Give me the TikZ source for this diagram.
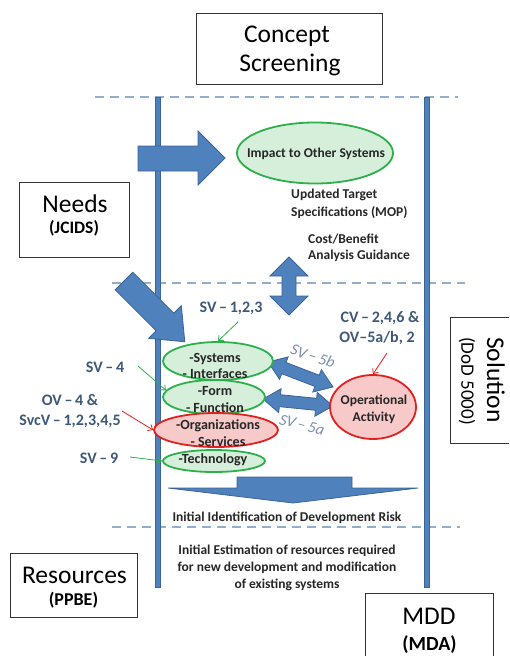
\documentclass[tikz,border=0pt]{standalone}
\usepackage{fontspec}
\setmainfont{Carlito}
\usetikzlibrary{shapes.geometric,arrows.meta}
\definecolor{abfill}{HTML}{4F81BD}
\definecolor{abdraw}{HTML}{3A6496}
\definecolor{dashc}{HTML}{94ADCB}
\definecolor{gborder}{HTML}{2DB04C}
\definecolor{gfill}{HTML}{D5EFDA}
\definecolor{rborder}{HTML}{E0211F}
\definecolor{rfill}{HTML}{F7C9C9}
\definecolor{lblc}{HTML}{3D5879}
\definecolor{ilblc}{HTML}{7D8EAE}
\definecolor{txtc}{HTML}{262626}
\begin{document}
\begin{tikzpicture}[x=1pt,y=-1pt,
  bigbox/.style={draw=black!80, line width=1pt, fill=white, inner sep=0pt},
  bigtxt/.style={font=\fontsize{25.5}{30}\selectfont, text=black, inner sep=0pt},
  subtxt/.style={font=\bfseries\fontsize{18}{22}\selectfont, text=black, inner sep=0pt},
  barstyle/.style={fill=abfill, draw=abdraw, line width=0.6pt},
  bigarrow/.style={fill=abfill, draw=abdraw, line width=0.8pt, line join=miter},
  phase/.style={draw=dashc, line width=1.3pt, dash pattern=on 9pt off 6pt},
  gell/.style={ellipse, draw=gborder, fill=gfill, line width=1.8pt, inner sep=0pt},
  rell/.style={ellipse, draw=rborder, fill=rfill, line width=1.8pt, inner sep=0pt},
  etext/.style={font=\bfseries\fontsize{14}{16}\selectfont, text=txtc, align=center, inner sep=0pt},
  lbl/.style={font=\bfseries\fontsize{16}{20}\selectfont, text=lblc, inner sep=0pt},
  ilbl/.style={font=\itshape\fontsize{16}{20}\selectfont, text=ilblc, inner sep=0pt},
  note/.style={font=\bfseries\fontsize{13.5}{18}\selectfont, text=txtc, inner sep=0pt},
  gline/.style={draw=gborder, line width=0.8pt, -{Straight Barb[length=4pt,width=7pt]}},
  rline/.style={draw=rborder, line width=0.8pt, -{Straight Barb[length=4pt,width=7pt]}},
]
\clip (0,0) rectangle (509,656);
\useasboundingbox (0,0) rectangle (509,656);

% phase separators
\draw[phase] (95,97) -- (458,97);
\draw[phase] (112,283) -- (465,283);
\draw[phase] (112,527) -- (460,527);

% vertical bars
\filldraw[barstyle] (155,97) rectangle (160,587);
\filldraw[barstyle] (424,97) rectangle (429,587);

% boxes
\node[bigbox, minimum width=186pt, minimum height=71pt] (conceptbox) at (289,48.5) {};
\node[bigtxt] (concept1) at (287,36) {Concept};
\node[bigtxt] (concept2) at (290,65) {Screening};

\node[bigbox, minimum width=110pt, minimum height=75pt] (needsbox) at (74,219.5) {};
\node[bigtxt] (needs1) at (75,203.5) {Needs};
\node[subtxt, font=\bfseries\fontsize{17.5}{20}\selectfont] (needs2) at (74,228) {(JCIDS)};

\node[bigbox, minimum width=127pt, minimum height=64pt] (resbox) at (73.5,585) {};
\node[bigtxt] (res1) at (74.5,575) {Resources};
\node[subtxt] (res2) at (73.5,600) {(PPBE)};

\node[bigbox, minimum width=128pt, minimum height=80pt] (mddbox) at (429,633) {};
\node[bigtxt] (mdd1) at (429,616) {MDD};
\node[subtxt, font=\bfseries\fontsize{20}{24}\selectfont] (mdd2) at (429.5,645) {(MDA)};

\node[bigbox, rotate=-90, minimum width=126pt, minimum height=70pt] (solbox) at (485,380) {};
\node[bigtxt, rotate=-90] (sol1) at (496,380) {Solution};
\node[bigtxt, rotate=-90, font=\fontsize{19}{22}\selectfont] (sol2) at (467,381) {(DoD 5000)};

% big arrows
\filldraw[bigarrow] (138,146) -- (198,146) -- (198,131) -- (225,158) -- (198,185) -- (198,171) -- (138,171) -- cycle;
\filldraw[bigarrow] (132.8,272.2) -- (173.8,313.2) -- (181.3,305.7) -- (184.8,341.8) -- (148.7,338.3) -- (156.2,330.8) -- (115.2,289.8) -- cycle;
\filldraw[bigarrow] (289,257) -- (308,276) -- (296,276) -- (296,296) -- (308,296) -- (289,315) -- (270,296) -- (282,296) -- (282,276) -- (270,276) -- cycle;
\filldraw[bigarrow] (237,477) -- (352,477) -- (352,488) -- (418,488) -- (293,503) -- (168,488) -- (237,488) -- cycle;
\begin{scope}[shift={(268,362)}, rotate=-21]
  \filldraw[bigarrow] (0,0) -- (17,-12) -- (17,-6) -- (52.6,-6) -- (52.6,-12) -- (69.6,0) -- (52.6,12) -- (52.6,6) -- (17,6) -- (17,12) -- cycle;
\end{scope}
\begin{scope}[shift={(263,399)}, rotate=-5.7]
  \filldraw[bigarrow] (0,0) -- (17,-12) -- (17,-6) -- (53.3,-6) -- (53.3,-12) -- (70.3,0) -- (53.3,12) -- (53.3,6) -- (17,6) -- (17,12) -- cycle;
\end{scope}

% ellipses
\node[gell, minimum width=156pt, minimum height=61pt] (impact) at (315,153) {};
\node[etext, font=\bfseries\fontsize{13.5}{16}\selectfont] (impacttxt) at (316,154) {Impact to Other Systems};

\node[gell, minimum width=110pt, minimum height=38pt] (sys) at (218,361) {};
\node[gell, minimum width=102pt, minimum height=34pt] (form) at (214,397) {};
\node[rell, minimum width=124pt, minimum height=34pt] (orgs) at (216,430) {};
\node[gell, minimum width=102pt, minimum height=22pt] (tech) at (214,461) {};
\node[rell, minimum width=86pt, minimum height=64pt] (opact) at (373,407) {};

\node[etext] (systxt) at (215,366) {-Systems\\- Interfaces};
\node[etext, font=\bfseries\fontsize{14}{17}\selectfont] (formtxt) at (215,399.5) {-Form\\- Function};
\node[etext, font=\bfseries\fontsize{14}{17}\selectfont] (orgstxt) at (218,433.5) {-Organizations\\- Services};
\node[etext] (techtxt) at (213,460) {-Technology};
\node[etext, font=\bfseries\fontsize{13.5}{17}\selectfont] (opacttxt) at (374,409) {Operational\\Activity};

% notes
\node[note, align=left, anchor=west] (updated) at (291,203.5) {Updated Target\\Specifications (MOP)};
\node[note, align=left, anchor=west, font=\bfseries\fontsize{13.5}{16.5}\selectfont] (cost) at (308,248) {Cost/Benefit\\Analysis Guidance};
\node[note] (risk) at (287,518) {Initial Identification of Development Risk};
\node[note, align=center, font=\bfseries\fontsize{13.5}{17}\selectfont] (estim) at (287,568) {Initial Estimation of resources required\\for new development and modification\\of existing systems};

% labels
\node[lbl] (sv123) at (231,308) {SV\,–\,1,2,3};
\node[lbl] (cv246) at (380,318) {CV\,–\,2,4,6 \&};
\node[lbl] (ov5) at (377,338) {OV–5a/b, 2};
\node[lbl] (sv4) at (105,367) {SV\,–\,4};
\node[lbl] (ov4) at (70,400) {OV\,–\,4 \&};
\node[lbl] (svcv) at (70,421) {SvcV\,–\,1,2,3,4,5};
\node[lbl] (sv9) at (99,458) {SV\,–\,9};
\node[ilbl, rotate=-19] (sv5b) at (313,356) {SV\,–\,5b};
\node[ilbl, rotate=-15] (sv5a) at (302,425) {SV\,–\,5a};

% connectors
\coordinate (c123) at (238,322);
\coordinate (ccv) at (387,353);
\coordinate (csv4) at (138,366);
\coordinate (cov4) at (122,411);
\coordinate (csv9) at (130,457);
\draw[gline] (c123) -- (sys.north);
\draw[rline] (ccv) -- (opact.north);
\draw[gline] (csv4) -- (form.172);
\draw[rline] (cov4) -- (orgs.west);
\draw[gline] (csv9) -- (tech.west);
\end{tikzpicture}
\end{document}
